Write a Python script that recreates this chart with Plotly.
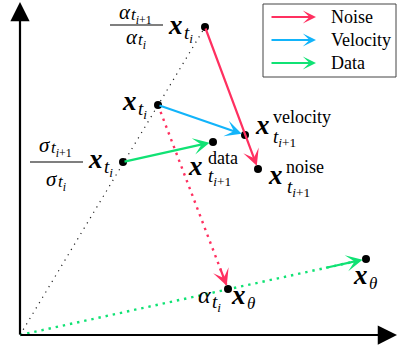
import plotly.graph_objects as go

W, H = 397, 347
X_RANGE = [-20, 377]
Y_RANGE = [-12, 335]

# Point positions in the diagram's own coordinate plane (origin at the axes corner)
origin = [0, 0]
x_top = [185, 308]      # (alpha_{t_i+1} / alpha_{t_i}) * x_{t_i}
x_ti = [138, 230]       # current sample x_{t_i}
x_sig = [103, 173]      # (sigma_{t_i+1} / sigma_{t_i}) * x_{t_i}
x_vel = [225, 200]      # velocity-parameterised update
x_dat = [193, 193]      # data-parameterised update
x_noi = [238, 166]      # noise-parameterised update
x_at = [208, 46]        # alpha_{t_i} * x_theta
x_th = [346, 76]        # x_theta prediction

axis_end = [377, 333]

legend_names = ["Noise", "Velocity", "Data"]

RED = "#ff3060"
BLUE = "#12b4fa"
GREEN = "#10e274"
legend_colors = [RED, BLUE, GREEN]

SERIF = "Liberation Serif"

fig = go.Figure()

# dotted guide lines
fig.add_trace(go.Scatter(x=[origin[0], x_top[0]], y=[origin[1], x_top[1]], mode="lines",
                         line=dict(color="#222", width=1.2, dash="1.2px,5px"), hoverinfo="skip"))
fig.add_trace(go.Scatter(x=[origin[0], x_th[0]], y=[origin[1], x_th[1]], mode="lines",
                         line=dict(color=GREEN, width=2.4, dash="2.4px,4.9px"), hoverinfo="skip"))
fig.add_trace(go.Scatter(x=[x_ti[0], x_at[0]], y=[x_ti[1], x_at[1]], mode="lines",
                         line=dict(color=RED, width=2.4, dash="2.4px,4.9px"), hoverinfo="skip"))

# points
pts = [x_top, x_ti, x_sig, x_vel, x_dat, x_noi, x_at, x_th]
fig.add_trace(go.Scatter(x=[p[0] for p in pts], y=[p[1] for p in pts], mode="markers",
                         marker=dict(color="black", size=8), hoverinfo="skip"))


def arrow(p0, p1, color, width=2.2, size=1.25, standoff=3.5, head_only=False):
    if head_only:
        # short stub so only the head shows on top of a dotted line
        f = 0.12
        p0 = [p1[0] - f * (p1[0] - p0[0]), p1[1] - f * (p1[1] - p0[1])]
    fig.add_annotation(x=p1[0], y=p1[1], ax=p0[0], ay=p0[1], xref="x", yref="y",
                       axref="x", ayref="y", showarrow=True, arrowhead=3,
                       arrowsize=size, arrowwidth=width, arrowcolor=color,
                       standoff=standoff, text="")


# axes
fig.add_annotation(x=axis_end[0], y=0, ax=origin[0] - 1, ay=0, xref="x", yref="y",
                   axref="x", ayref="y", showarrow=True, arrowhead=2, arrowsize=1.75,
                   arrowwidth=2.2, arrowcolor="black", text="")
fig.add_annotation(x=0, y=axis_end[1], ax=0, ay=origin[1] - 1, xref="x", yref="y",
                   axref="x", ayref="y", showarrow=True, arrowhead=2, arrowsize=1.75,
                   arrowwidth=2.2, arrowcolor="black", text="")

# update arrows
arrow(x_top, x_noi, RED)
arrow(x_ti, x_vel, BLUE)
arrow(x_sig, x_dat, GREEN)
arrow(x_ti, x_at, RED, head_only=True)
arrow(origin, x_th, GREEN, head_only=True)


def piece(p, text, dx, dy, size, anchor="left"):
    """Place a text fragment dx, dy screen pixels (dy downward) from point p."""
    fig.add_annotation(x=p[0], y=p[1], xref="x", yref="y", text=text, showarrow=False,
                       xshift=dx, yshift=-dy, xanchor=anchor, yanchor="middle",
                       font=dict(family=SERIF, size=size, color="black"))


BX = "<b><i>x</i></b>"
T_I = "<i>t</i><sub><i>i</i></sub>"
T_I1 = "<i>t</i><sub><i>i</i>+1</sub>"
XS, SS, US, GS = 27, 19, 18, 21   # bold x, subscript, superscript word, greek sizes

# x_{t_i}
piece(x_ti, BX, -38, -4, XS)
piece(x_ti, T_I, -22, 5, SS)
# (alpha_{t_i+1}/alpha_{t_i}) x_{t_i}
piece(x_top, BX, -39, -2, XS)
piece(x_top, T_I, -23, 7, SS)
piece(x_top, "<i>α</i>", -88, -15, GS)
piece(x_top, T_I1, -76, -11, 17)
piece(x_top, "<i>α</i>", -81, 10, GS)
piece(x_top, T_I, -69, 14, 17)
# (sigma_{t_i+1}/sigma_{t_i}) x_{t_i}
piece(x_sig, BX, -37, -3, XS)
piece(x_sig, T_I, -21, 6, SS)
piece(x_sig, "<i>σ</i>", -86, -17, GS)
piece(x_sig, T_I1, -74, -13, 17)
piece(x_sig, "<i>σ</i>", -79, 17, GS)
piece(x_sig, T_I, -67, 21, 17)
# x^{velocity}_{t_i+1}
piece(x_vel, BX, 8, -10, XS)
piece(x_vel, "velocity", 26, -18, US)
piece(x_vel, T_I1, 26, 3, SS)
# x^{noise}_{t_i+1}
piece(x_noi, BX, 8, 6, XS)
piece(x_noi, "noise", 26, -2, US)
piece(x_noi, T_I1, 27, 19, SS)
# x^{data}_{t_i+1}
piece(x_dat, BX, -27, 24, XS)
piece(x_dat, "data", -7, 16, US)
piece(x_dat, T_I1, -7, 35, SS)
# alpha_{t_i} x_theta
piece(x_at, "<i>α</i>", -32, 6, 24)
piece(x_at, T_I, -18, 14, SS)
piece(x_at, BX, 1, 6, XS)
piece(x_at, "<i>θ</i>", 17, 14, 17)
# x_theta
piece(x_th, BX, -15, 16, XS)
piece(x_th, "<i>θ</i>", 1, 24, 17)

# fraction bars
for x0, x1, yb in [(110, 163, 25), (30, 83, 162)]:
    fig.add_shape(type="line", xref="paper", yref="paper", x0=x0 / W, x1=x1 / W,
                  y0=1 - yb / H, y1=1 - yb / H, line=dict(color="black", width=1.2))

# legend box
fig.add_shape(type="rect", xref="paper", yref="paper", x0=263 / W, x1=396 / W,
              y0=1 - 77 / H, y1=1 - 4 / H, line=dict(color="#444", width=1), fillcolor="white")
for i, (name, col) in enumerate(zip(legend_names, legend_colors)):
    yy = 1 - (17 + 23 * i) / H
    fig.add_annotation(x=316 / W, y=yy, ax=-46, ay=0, xref="paper", yref="paper",
                       axref="pixel", ayref="pixel", showarrow=True, arrowhead=3,
                       arrowsize=1.0, arrowwidth=2.2, arrowcolor=col, text="")
    fig.add_annotation(x=329 / W, y=yy, xref="paper", yref="paper", text=name,
                       showarrow=False, xanchor="left", yanchor="middle",
                       font=dict(family=SERIF, size=18, color="black"))

fig.update_layout(width=W, height=H, margin=dict(l=0, r=0, t=0, b=0),
                  paper_bgcolor="white", plot_bgcolor="white", showlegend=False,
                  xaxis=dict(range=X_RANGE, visible=False),
                  yaxis=dict(range=Y_RANGE, visible=False))
fig.write_html("out.html")
